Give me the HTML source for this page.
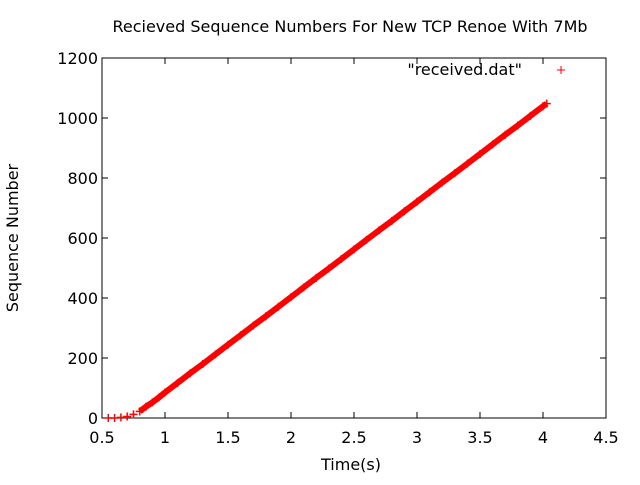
<!DOCTYPE html>
<html><head><meta charset="utf-8"><style>
body{margin:0;background:#fff}
text{font-family:"DejaVu Sans","Liberation Sans",sans-serif;font-size:16px;fill:#000}
</style></head><body>
<svg id="chart" width="640" height="480" xmlns="http://www.w3.org/2000/svg">
<rect width="640" height="480" fill="#fff"/>
<text x="350" y="32" text-anchor="middle">Recieved Sequence Numbers For New TCP Renoe With 7Mb</text>
<text x="351" y="470" text-anchor="middle">Time(s)</text>
<text transform="translate(18,238) rotate(-90)" text-anchor="middle">Sequence Number</text>
<g id="axes"></g>
<g id="series"></g>
<text x="522" y="75" text-anchor="end">"received.dat"</text>
<g stroke="#f00" stroke-width="1"><line x1="557" y1="70" x2="565" y2="70"/><line x1="561" y1="66" x2="561" y2="74"/></g>
</svg>
<script>
const xTicks=[0.5,1,1.5,2,2.5,3,3.5,4,4.5];
const yTicks=[0,200,400,600,800,1000,1200];
const times=[0.55,0.6,0.65,0.7,0.75,0.8,0.85,0.9,0.95,1.0,1.1,1.2,1.3,1.4,1.5,1.6,1.7,1.8,1.9,2.0,2.1,2.2,2.3,2.4,2.5,2.6,2.7,2.8,2.9,3.0,3.1,3.2,3.3,3.4,3.5,3.6,3.7,3.8,3.9,4.0,4.03];
const seqs=[0,0,2,5,12,22,38,52,68,85,117,149,180,212,244,276,308,339,371,403,435,467,498,530,562,594,626,657,689,721,753,785,816,848,880,912,944,975,1007,1039,1048];
const L=102,R=606,T=58,B=418;
const X=v=>L+(v-0.5)/4*(R-L);
const Y=v=>B-v/1200*(B-T);
const NS="http://www.w3.org/2000/svg";
const ax=document.getElementById('axes');
function mk(tag,attrs,parent){const e=document.createElementNS(NS,tag);for(const k in attrs)e.setAttribute(k,attrs[k]);parent.appendChild(e);return e;}
const fr=mk('rect',{x:L,y:T,width:R-L,height:B-T,fill:'none',stroke:'#000','stroke-width':1},ax);


xTicks.forEach(t=>{
  const x=X(t);
  mk('line',{x1:x,y1:B,x2:x,y2:B-6,stroke:'#000'},ax);
  mk('line',{x1:x,y1:T,x2:x,y2:T+6,stroke:'#000'},ax);
  const tx=mk('text',{x:x,y:B+25,'text-anchor':'middle'},ax);tx.textContent=t;
  
  
});
yTicks.forEach(t=>{
  const y=Y(t);
  mk('line',{x1:L,y1:y,x2:L+6,y2:y,stroke:'#000'},ax);
  mk('line',{x1:R,y1:y,x2:R-6,y2:y,stroke:'#000'},ax);
  const tx=mk('text',{x:L-4,y:y+6,'text-anchor':'end'},ax);tx.textContent=t;
  
  
});
const sg=document.getElementById('series');
const pts=times.map((t,i)=>X(t)+','+Y(seqs[i])).filter((p,i)=>times[i]>=0.8).join(' ');
const band=mk('polyline',{points:pts,fill:'none',stroke:'#f00','stroke-width':6},sg);


times.forEach((t,i)=>{
  const x=X(t),y=Y(seqs[i]);
  const g=mk('g',{stroke:'#f00','stroke-width':1.5},sg);
  
  
  mk('line',{x1:x-4,y1:y,x2:x+4,y2:y},g);
  mk('line',{x1:x,y1:y-4,x2:x,y2:y+4},g);
});
</script>
</body></html>
